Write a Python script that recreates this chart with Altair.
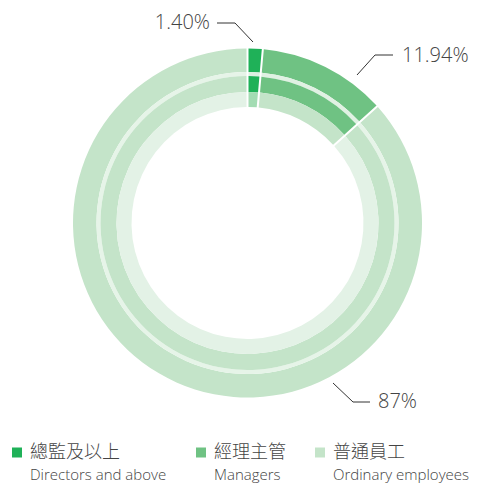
import math
import altair as alt
import pandas as pd

# ---- data ----
cats_zh = ["總監及以上", "經理主管", "普通員工"]
cats_en = ["Directors and above", "Managers", "Ordinary employees"]
shares = [1.40, 11.94, 86.66]
pct_labels = ["1.40%", "11.94%", "87%"]

# ---- styles ----
main_colors = ["#1fb158", "#6fc283", "#c4e4c9"]
inner_colors = ["#a3dcb3", "#c4e4c9", "#e3f2e6"]
gap_colors = ["#dcefe1", "#e0f1e3", "#e6f4e8"]
TEXT = "#444444"
W, H = 467, 476
CX, CY = 239.5, 215.0  # arc centre in plot coordinates


def ring(colors, r_in, r_out, gap_px=2.0):
    df = pd.DataFrame({"cat": cats_en, "share": shares, "order": [0, 1, 2], "color": colors})
    pad = gap_px / math.sqrt(r_in ** 2 + r_out ** 2)
    return alt.Chart(df).mark_arc(radius=r_out, radius2=r_in, padAngle=pad).encode(
        theta=alt.Theta("share:Q", stack=True),
        order=alt.Order("order:Q"),
        color=alt.Color("color:N", scale=None),
        x=alt.value(CX),
        y=alt.value(CY),
    )


outer = ring(main_colors, 151, 174.5)
gap = ring(gap_colors, 147, 151)
middle = ring(main_colors, 131, 147)
inner = ring(inner_colors, 116, 131)

# ---- percentage labels and leader lines (layout) ----
label_pos = [(202, 15, "right"), (394, 48, "left"), (370, 394, "left")]
lab_df = pd.DataFrame({
    "text": pct_labels,
    "x": [p[0] for p in label_pos],
    "y": [p[1] for p in label_pos],
    "align": [p[2] for p in label_pos],
})
labels = alt.layer(*[
    alt.Chart(lab_df.iloc[[i]]).mark_text(
        align=lab_df["align"][i], baseline="middle", fontSize=20, font="Open Sans",
        fontWeight=300, color=TEXT,
    ).encode(x=alt.X("x:Q", scale=None), y=alt.Y("y:Q", scale=None), text="text:N")
    for i in range(3)
])

leader_pts = [
    [(209, 15), (227, 15), (245, 34)],
    [(385, 47), (367, 47), (349, 67)],
    [(325, 375), (345, 394), (362, 394)],
]
rows = []
for k, pts in enumerate(leader_pts):
    for j, (x, y) in enumerate(pts):
        rows.append({"id": k, "seq": j, "x": x, "y": y})
lead_df = pd.DataFrame(rows)
leaders = alt.Chart(lead_df).mark_line(color="#333333", strokeWidth=1).encode(
    x=alt.X("x:Q", scale=None), y=alt.Y("y:Q", scale=None),
    detail="id:N", order="seq:Q",
)

# ---- legend ----
leg_x = [9, 193, 312]
leg_df = pd.DataFrame({
    "zh": cats_zh, "en": cats_en, "color": main_colors,
    "sx": leg_x, "tx": [x + 13 for x in leg_x],
})
leg_sq = alt.Chart(leg_df).mark_square(size=100, opacity=1).encode(
    x=alt.X("sx:Q", scale=None), y=alt.value(444.5),
    color=alt.Color("color:N", scale=None),
)
leg_zh = alt.Chart(leg_df).mark_text(
    align="left", baseline="middle", fontSize=18, font="Noto Sans CJK TC",
    fontWeight=300, color=TEXT,
).encode(x=alt.X("tx:Q", scale=None), y=alt.value(445), text="zh:N")
leg_en = alt.Chart(leg_df).mark_text(
    align="left", baseline="alphabetic", fontSize=15, font="Open Sans",
    fontWeight=300, color=TEXT,
).encode(x=alt.X("tx:Q", scale=None), y=alt.value(472), text="en:N")

chart = alt.layer(
    outer, gap, middle, inner, leaders, labels, leg_sq, leg_zh, leg_en
).properties(
    width=W, height=H, autosize=alt.AutoSizeParams(type="none"), padding=0,
).configure_view(stroke=None)

chart.save("out.html", embed_options={"renderer": "svg", "actions": False})
